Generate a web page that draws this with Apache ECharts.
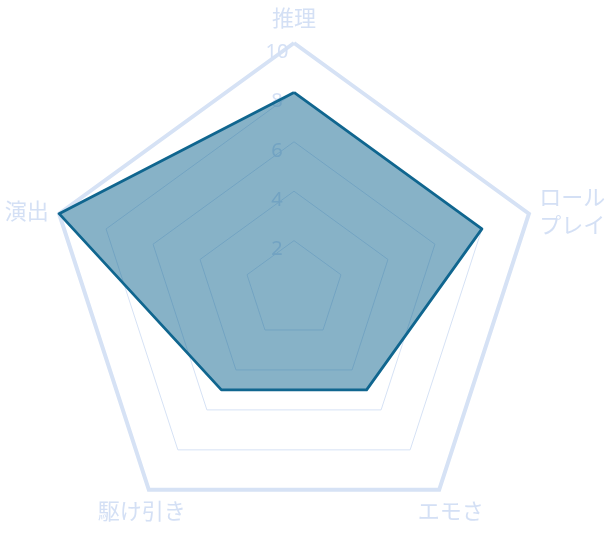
<!DOCTYPE html>
<html>
<head>
<meta charset="utf-8">
<script src="https://cdn.jsdelivr.net/npm/echarts@6/dist/echarts.min.js"></script>
<style>
  html, body { margin: 0; padding: 0; background: #fff; }
  #main { width: 608px; height: 543px; }
</style>
</head>
<body>
<div id="main"></div>
<script>
// 指標とスコア（上から時計回り）
const indicatorNames = ['推理', 'ロール\nプレイ', 'エモさ', '駆け引き', '演出'];
const scores = [8, 8, 5, 5, 10];
const maxValue = 10;
const tickStep = 2;

const lineColor = '#10668f';
const gridColor = '#d6e2f5';
const labelColor = '#d4e0f5';
const cx = 294, cy = 290, R = 247;

const chart = echarts.init(document.getElementById('main'));

// EChartsのレーダーは反時計回りなので並べ替える
const order = [0, 4, 3, 2, 1];
const indicators = order.map(i => ({ name: indicatorNames[i], max: maxValue, min: 0 }));
const values = order.map(i => scores[i]);

// 下の2つのラベルは位置を少しずらす
function nameFormatter(name) {
    if (name === 'エモさ') return '{e|' + name + '}';
    if (name === '駆け引き') return '{k|' + name + '}';
    return name;
}

const nameFont = { color: labelColor, fontSize: 22, fontFamily: 'Noto Sans CJK JP' };

const option = {
    animation: false,
    radar: [
        {
            center: [cx, cy],
            radius: R,
            startAngle: 90,
            shape: 'polygon',
            splitNumber: maxValue / tickStep,
            indicator: indicators,
            axisName: {
                color: labelColor,
                fontSize: 22,
                fontFamily: 'Noto Sans CJK JP',
                lineHeight: 28,
                formatter: nameFormatter,
                rich: {
                    e: Object.assign({ width: 10, align: 'center', padding: [24, 0, 0, 0] }, nameFont),
                    k: Object.assign({ width: 1, align: 'center', padding: [24, 0, 0, 0] }, nameFont)
                }
            },
            nameGap: 11,
            axisLine: { show: false },
            axisTick: { show: false },
            axisLabel: { show: false },
            splitLine: { lineStyle: { color: gridColor, width: 1 } },
            splitArea: { show: false }
        },
        {
            // 外枠だけ太く
            center: [cx, cy],
            radius: R,
            startAngle: 90,
            shape: 'polygon',
            splitNumber: 1,
            indicator: indicators,
            axisName: { show: false },
            axisLine: { show: false },
            axisTick: { show: false },
            axisLabel: { show: false },
            splitLine: { lineStyle: { color: gridColor, width: 4 } },
            splitArea: { show: false }
        }
    ],
    // 目盛り数字は上の軸だけ（塗りの下に描く）
    polar: { center: [cx, cy], radius: R },
    angleAxis: { show: false, startAngle: 90, min: 0, max: 360 },
    radiusAxis: {
        min: 0,
        max: maxValue,
        interval: tickStep,
        axisLine: { show: false },
        axisTick: { show: false },
        splitLine: { show: false },
        axisLabel: {
            show: true,
            showMinLabel: false,
            color: labelColor,
            fontSize: 20,
            fontFamily: 'Noto Sans',
            margin: 17,
            align: 'center',
            verticalAlign: 'top',
            lineHeight: 18
        }
    },
    series: [
        {
            type: 'radar',
            radarIndex: 0,
            symbol: 'none',
            z: 2,
            lineStyle: { color: lineColor, width: 2.8 },
            areaStyle: { color: lineColor, opacity: 0.5 },
            data: [{ value: values }]
        }
    ]
};

chart.setOption(option);
</script>
</body>
</html>
